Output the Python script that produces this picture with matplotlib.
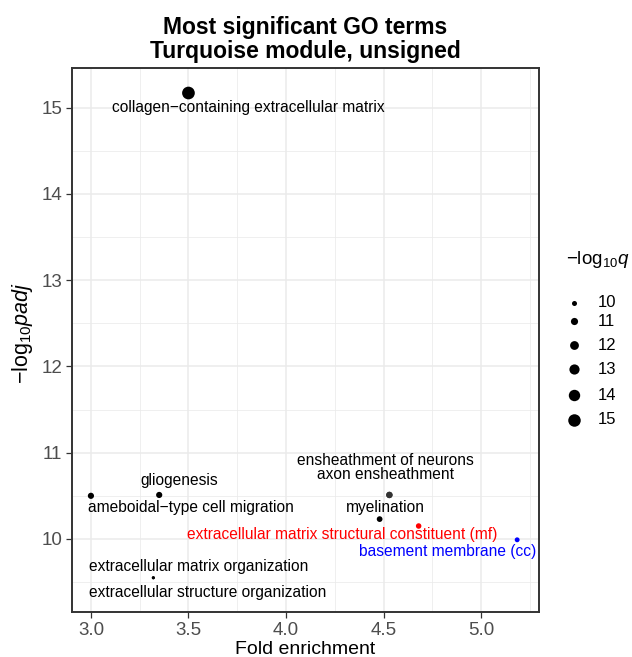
import matplotlib
matplotlib.use("Agg")
import matplotlib.pyplot as plt
from matplotlib.ticker import MultipleLocator

plt.rcParams['font.family'] = ['Liberation Sans', 'DejaVu Sans']
plt.rcParams['mathtext.fontset'] = 'custom'
plt.rcParams['mathtext.rm'] = 'Liberation Sans'
plt.rcParams['mathtext.it'] = 'Liberation Sans:italic'

# GO terms
terms = ["collagen\u2212containing extracellular matrix",
         "gliogenesis",
         "ameboidal\u2212type cell migration",
         "ensheathment of neurons",
         "axon ensheathment",
         "myelination",
         "extracellular matrix structural constituent (mf)",
         "basement membrane (cc)",
         "extracellular matrix organization",
         "extracellular structure organization"]
fold = [3.50, 3.35, 3.00, 4.53, 4.53, 4.48, 4.68, 5.185, 3.32, 3.32]
padj = [15.17, 10.51, 10.50, 10.51, 10.51, 10.23, 10.15, 9.99, 9.55, 9.55]
qval = [15.2, 10.5, 10.5, 10.6, 10.6, 10.3, 10.2, 9.95, 9.4, 9.4]
colors = ["black", "black", "black", "#333333", "#333333", "black",
          "red", "blue", "black", "black"]
legend_q = [10, 11, 12, 13, 14, 15]


def qsize(q):
    # point area grows with -log10 q
    return 13 + (q - 10) * 13.6


W, H = 632, 657
fig = plt.figure(figsize=(W / 100, H / 100), dpi=100)
ax = fig.add_axes([72 / W, 1 - 612 / H, 467 / W, 544 / H])

ax.scatter(fold, padj, s=[qsize(q) for q in qval], c=colors, zorder=3, linewidths=0)

# label positions (repelled by hand)
label_xy = [(3.805, 15.00), (3.45, 10.68), (3.513, 10.37), (4.51, 10.915),
            (4.51, 10.745), (4.51, 10.37), (4.287, 10.05), (4.83, 9.85),
            (3.554, 9.68), (3.60, 9.38)]
for t, (lx, ly), c in zip(terms, label_xy, colors):
    tc = c if c in ("red", "blue") else "black"
    ax.text(lx, ly, t, color=tc, fontsize=11.2, ha="center", va="center", zorder=4)

ax.set_xlim(2.903, 5.297)
ax.set_ylim(9.153, 15.46)
ax.xaxis.set_major_locator(MultipleLocator(0.5))
ax.xaxis.set_minor_locator(MultipleLocator(0.25))
ax.yaxis.set_major_locator(MultipleLocator(1))
ax.yaxis.set_minor_locator(MultipleLocator(0.5))
ax.grid(which="major", color="#ebebeb", linewidth=1.1, zorder=0)
ax.grid(which="minor", color="#ebebeb", linewidth=0.55, zorder=0)
ax.set_axisbelow(True)
ax.tick_params(which="minor", length=0)
ax.tick_params(which="major", length=4, width=0.9, color="#333333",
               labelsize=13.5, labelcolor="#4d4d4d", pad=3)
for sp in ax.spines.values():
    sp.set_color("#333333")
    sp.set_linewidth(1.4)

ax.set_xticklabels([f"{v:.1f}" for v in ax.get_xticks()])
ax.set_xlabel("Fold enrichment", fontsize=14)
ax.xaxis.set_label_coords(0.5, -0.053)
ax.set_ylabel(r"$\mathregular{-log_{10}}\mathit{padj}$", fontsize=15.5, va="center")
ax.yaxis.set_label_coords(-0.107, 0.513)
ax.set_title("Most significant GO terms\nTurquoise module, unsigned",
             fontsize=16.5, fontweight="bold", pad=7, linespacing=1.05)

# size legend, drawn by hand in pixel positions
fig.text(566 / W, 1 - 260 / H, r"$\mathregular{-log_{10}}\mathit{q}$",
         fontsize=13.5, ha="left", va="center")
key_y = [303, 321, 345, 369, 395, 420]
for q, ky in zip(legend_q, key_y):
    ax.scatter([574 / W], [1 - ky / H], s=qsize(q), c="black", linewidths=0,
               transform=fig.transFigure, clip_on=False)
    fig.text(598 / W, 1 - ky / H, str(q), fontsize=12, ha="left", va="center")

fig.savefig("out.png", dpi=100)
